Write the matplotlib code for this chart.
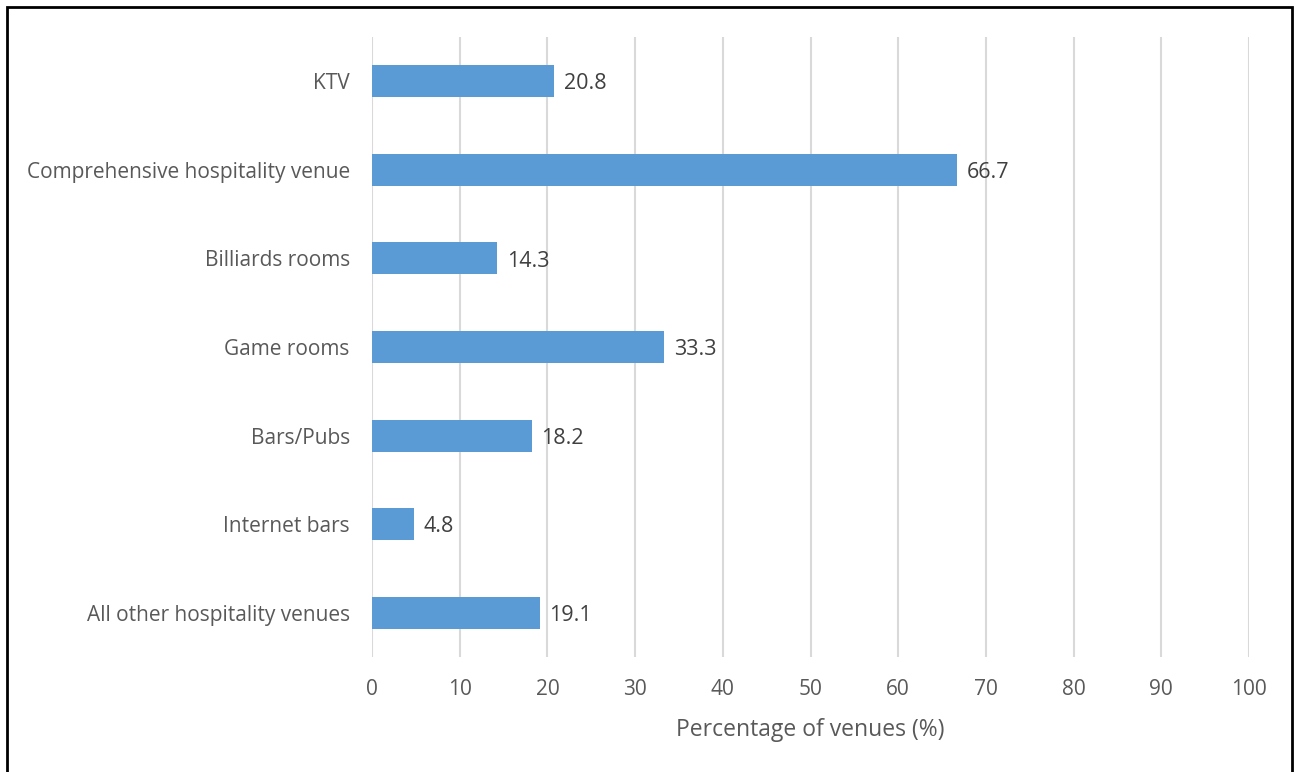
import matplotlib.pyplot as plt
from matplotlib.patches import Rectangle

categories = ['KTV', 'Comprehensive hospitality venue', 'Billiards rooms', 'Game rooms',
              'Bars/Pubs', 'Internet bars', 'All other hospitality venues']
values = [20.8, 66.7, 14.3, 33.3, 18.2, 4.8, 19.1]
xticks = [0, 10, 20, 30, 40, 50, 60, 70, 80, 90, 100]

plt.rcParams['font.family'] = ['Open Sans', 'DejaVu Sans']

fig = plt.figure(figsize=(12.97, 7.72), dpi=100)
ax = fig.add_axes([372 / 1297, 1 - 657 / 772, (1249 - 372) / 1297, (657 - 37) / 772])

ypos = list(range(len(categories)))[::-1]
ax.barh(ypos, values, height=0.36, color='#5B9BD5', zorder=3)
for y, v in zip(ypos, values):
    ax.text(v + 1.1, y - 0.03, f'{v:.1f}', va='center', ha='left', fontsize=15.5, color='#404040')

ax.set_xlim(0, 100)
ax.set_ylim(-0.5, len(categories) - 0.5)
ax.set_xticks(xticks)
ax.set_yticks(ypos)
ax.set_yticklabels(categories)
ax.tick_params(axis='both', length=0, labelsize=15, colors='#595959')
ax.tick_params(axis='x', pad=16)
ax.tick_params(axis='y', pad=16)
ax.grid(axis='x', color='#D9D9D9', linewidth=1.5, zorder=0)
for s in ax.spines.values():
    s.set_visible(False)
ax.set_xlabel('Percentage of venues (%)', fontsize=16.5, color='#595959', labelpad=13)

fig.patches.append(Rectangle((7 / 1297, -0.05), (1292 - 7) / 1297, 1 - 7 / 772 + 0.05,
                             transform=fig.transFigure, fill=False, edgecolor='black',
                             linewidth=2, figure=fig))

fig.savefig('out.png', dpi=100)
